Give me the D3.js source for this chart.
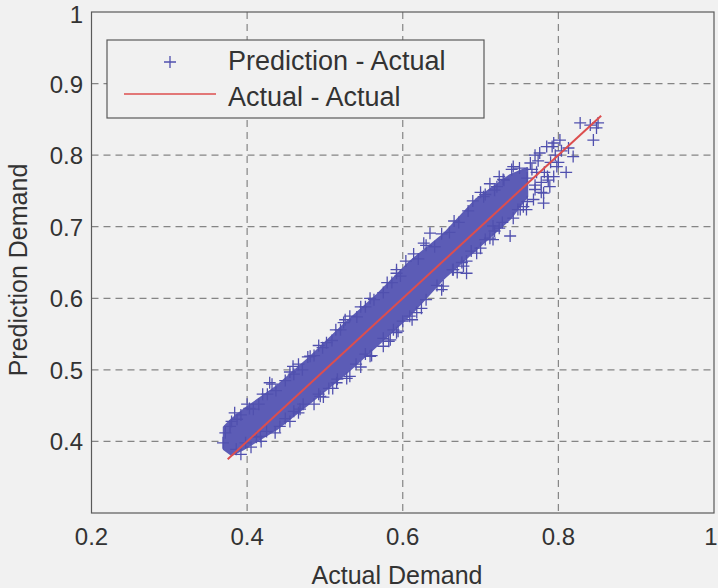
<!DOCTYPE html>
<html>
<head>
<meta charset="utf-8">
<script src="https://cdn.jsdelivr.net/npm/d3@7"></script>
<style>
  body { margin: 0; background: #f1f1f1; }
  svg { display: block; }
</style>
</head>
<body>
<div id="chart"></div>
<script>
// dense core of the scatter: upper / lower edge
var bandActual = [0.370, 0.380, 0.395, 0.438, 0.481, 0.524, 0.567, 0.609, 0.652, 0.695, 0.738, 0.760];
var bandUpper  = [0.420, 0.431, 0.444, 0.477, 0.518, 0.563, 0.605, 0.651, 0.689, 0.739, 0.772, 0.782];
var bandLower  = [0.389, 0.381, 0.389, 0.417, 0.454, 0.492, 0.534, 0.576, 0.627, 0.669, 0.711, 0.742];

// single crosses visible around the edge of the cloud
var edgeActual = [0.828, 0.841, 0.851, 0.845, 0.849, 0.794, 0.802, 0.813, 0.819, 0.798, 0.794, 0.789,
                  0.742, 0.764, 0.776, 0.785, 0.751, 0.768, 0.781, 0.704, 0.721, 0.729, 0.738, 0.716,
                  0.682, 0.678, 0.627, 0.635, 0.592, 0.609, 0.618, 0.592, 0.584, 0.532, 0.524, 0.502,
                  0.481, 0.459, 0.429, 0.532, 0.515, 0.494, 0.468, 0.442, 0.417, 0.558, 0.575, 0.652,
                  0.665, 0.695, 0.716, 0.759, 0.781, 0.372, 0.378, 0.369, 0.387, 0.408, 0.810, 0.772,
                  // upper edge
                  0.380, 0.392, 0.403, 0.415, 0.426, 0.437, 0.449, 0.460, 0.471, 0.486, 0.497, 0.509,
                  0.520, 0.541, 0.552, 0.563, 0.575, 0.586, 0.597, 0.620, 0.641, 0.660, 0.672, 0.684,
                  0.706, 0.718, 0.730, 0.750, 0.770, 0.792,
                  0.384, 0.400, 0.420, 0.432, 0.455, 0.466, 0.478, 0.492, 0.514, 0.526, 0.546, 0.558,
                  0.580, 0.592, 0.604, 0.614, 0.630, 0.650, 0.666, 0.690, 0.700, 0.712, 0.724, 0.740,
                  // lower edge
                  0.386, 0.398, 0.412, 0.425, 0.449, 0.460, 0.472, 0.492, 0.505, 0.516, 0.540, 0.552,
                  0.575, 0.588, 0.600, 0.630, 0.644, 0.664, 0.676, 0.688, 0.706, 0.718, 0.728, 0.748,
                  0.760, 0.770, 0.787, 0.800,
                  0.392, 0.405, 0.418, 0.436, 0.455, 0.466, 0.486, 0.498, 0.510, 0.528, 0.546, 0.560,
                  0.582, 0.594, 0.612, 0.624, 0.650, 0.670, 0.682, 0.700, 0.712, 0.724, 0.742, 0.755,
                  0.778,
                  // sparse top of the cloud
                  0.766, 0.774, 0.782, 0.790, 0.778, 0.786, 0.796, 0.804, 0.770, 0.760];
var edgePred   = [0.845, 0.842, 0.845, 0.821, 0.838, 0.817, 0.821, 0.810, 0.798, 0.784, 0.770, 0.756,
                  0.784, 0.789, 0.803, 0.812, 0.724, 0.738, 0.747, 0.742, 0.756, 0.766, 0.687, 0.682,
                  0.635, 0.645, 0.677, 0.691, 0.635, 0.575, 0.580, 0.552, 0.542, 0.575, 0.566, 0.538,
                  0.519, 0.505, 0.482, 0.491, 0.482, 0.463, 0.445, 0.421, 0.407, 0.519, 0.533, 0.617,
                  0.640, 0.663, 0.701, 0.724, 0.733, 0.412, 0.421, 0.398, 0.431, 0.445, 0.776, 0.776,
                  0.428, 0.437, 0.446, 0.452, 0.466, 0.471, 0.485, 0.494, 0.500, 0.520, 0.531, 0.541,
                  0.556, 0.574, 0.588, 0.598, 0.608, 0.622, 0.631, 0.655, 0.672, 0.692, 0.706, 0.722,
                  0.745, 0.751, 0.765, 0.782, 0.800, 0.812,
                  0.440, 0.452, 0.466, 0.480, 0.497, 0.508, 0.518, 0.534, 0.556, 0.570, 0.588, 0.600,
                  0.622, 0.640, 0.652, 0.662, 0.674, 0.690, 0.708, 0.736, 0.748, 0.760, 0.770, 0.780,
                  0.389, 0.398, 0.406, 0.414, 0.432, 0.442, 0.452, 0.466, 0.474, 0.487, 0.508, 0.522,
                  0.544, 0.556, 0.568, 0.598, 0.618, 0.640, 0.650, 0.666, 0.682, 0.694, 0.706, 0.724,
                  0.735, 0.752, 0.765, 0.790,
                  0.382, 0.392, 0.400, 0.412, 0.428, 0.440, 0.452, 0.462, 0.474, 0.488, 0.504, 0.520,
                  0.540, 0.554, 0.570, 0.586, 0.612, 0.636, 0.652, 0.670, 0.684, 0.698, 0.712, 0.728,
                  0.748,
                  0.780, 0.792, 0.776, 0.790, 0.762, 0.770, 0.800, 0.806, 0.758, 0.768];

// Actual - Actual reference line
var lineActual = [0.375, 0.855];

var xTicks = [0.2, 0.4, 0.6, 0.8, 1];
var yTicks = [0.4, 0.5, 0.6, 0.7, 0.8, 0.9, 1];
var xGrid = [0.4, 0.6, 0.8];
var yGrid = [0.4, 0.5, 0.6, 0.7, 0.8, 0.9];

var W = 718, H = 588;
var svg = d3.select("#chart").append("svg").attr("width", W).attr("height", H);
svg.append("rect").attr("width", W).attr("height", H).attr("fill", "#f1f1f1");

var x = d3.scaleLinear().domain([0.2, 1]).range([91.5, 714]);
var y = d3.scaleLinear().domain([0.3, 1]).range([513, 12]);

var font = "Liberation Sans, Arial, sans-serif";
var blue = "#5050ae";
var red = "#dc4e4e";

// grid
svg.selectAll("line.gx").data(xGrid).enter().append("line")
    .attr("x1", d => x(d)).attr("x2", d => x(d))
    .attr("y1", y(1)).attr("y2", y(0.3))
    .attr("stroke", "#858585").attr("stroke-width", 1.2).attr("stroke-dasharray", "7,5");
svg.selectAll("line.gy").data(yGrid).enter().append("line")
    .attr("y1", d => y(d)).attr("y2", d => y(d))
    .attr("x1", x(0.2)).attr("x2", x(1))
    .attr("stroke", "#858585").attr("stroke-width", 1.2).attr("stroke-dasharray", "7,5");

// cloud core
var band = bandActual.map((a, i) => ({a: a, hi: bandUpper[i], lo: bandLower[i]}));
svg.append("path").datum(band)
    .attr("d", d3.area().x(d => x(d.a)).y0(d => y(d.lo)).y1(d => y(d.hi)))
    .attr("fill", "#5c5cb6").attr("stroke", "#5c5cb6").attr("stroke-width", 2).attr("stroke-linejoin", "round");

// edge crosses
var cross = "M-6,0H6M0,-6V6";
var pts = edgeActual.map((a, i) => ({a: a, p: edgePred[i]}));
svg.selectAll("path.pt").data(pts).enter().append("path")
    .attr("d", cross)
    .attr("transform", d => "translate(" + x(d.a) + "," + y(d.p) + ")")
    .attr("stroke", blue).attr("stroke-width", 1.3).attr("fill", "none");

// red line
svg.append("path").datum(lineActual)
    .attr("d", d3.line().x(d => x(d)).y(d => y(d)))
    .attr("stroke", red).attr("stroke-width", 2).attr("fill", "none");

// frame
svg.append("rect")
    .attr("x", x(0.2)).attr("y", y(1))
    .attr("width", x(1) - x(0.2)).attr("height", y(0.3) - y(1))
    .attr("fill", "none").attr("stroke", "#5a5a5a").attr("stroke-width", 1.2);

// tick labels
svg.selectAll("text.xt").data(xTicks).enter().append("text")
    .attr("x", d => Math.min(x(d), 711)).attr("y", 545)
    .attr("text-anchor", "middle")
    .style("font-family", font).style("font-size", "24px").attr("fill", "#333")
    .text(d => d3.format("")(d));
svg.selectAll("text.yt").data(yTicks).enter().append("text")
    .attr("x", 83).attr("y", d => Math.max(y(d) + 9, 23))
    .attr("text-anchor", "end")
    .style("font-family", font).style("font-size", "24px").attr("fill", "#333")
    .text(d => d3.format("")(d));

// axis titles
svg.append("text")
    .attr("x", 397).attr("y", 584).attr("text-anchor", "middle")
    .style("font-family", font).style("font-size", "25px").attr("fill", "#333")
    .text("Actual Demand");
svg.append("text")
    .attr("transform", "translate(27,270) rotate(-90)").attr("text-anchor", "middle")
    .style("font-family", font).style("font-size", "25px").attr("fill", "#333")
    .text("Prediction Demand");

// legend
var lg = svg.append("g");
lg.append("rect").attr("x", 107).attr("y", 40).attr("width", 377).attr("height", 78)
    .attr("fill", "#f1f1f1").attr("stroke", "#5a5a5a").attr("stroke-width", 1.2);
lg.append("path").attr("d", cross).attr("transform", "translate(170,62)")
    .attr("stroke", blue).attr("stroke-width", 1.3);
lg.append("line").attr("x1", 124).attr("x2", 216).attr("y1", 94).attr("y2", 94)
    .attr("stroke", red).attr("stroke-width", 1.5);
lg.append("text").attr("x", 228).attr("y", 70)
    .style("font-family", font).style("font-size", "27px").attr("fill", "#333")
    .text("Prediction - Actual");
lg.append("text").attr("x", 228).attr("y", 106)
    .style("font-family", font).style("font-size", "27px").attr("fill", "#333")
    .text("Actual - Actual");
</script>
</body>
</html>
